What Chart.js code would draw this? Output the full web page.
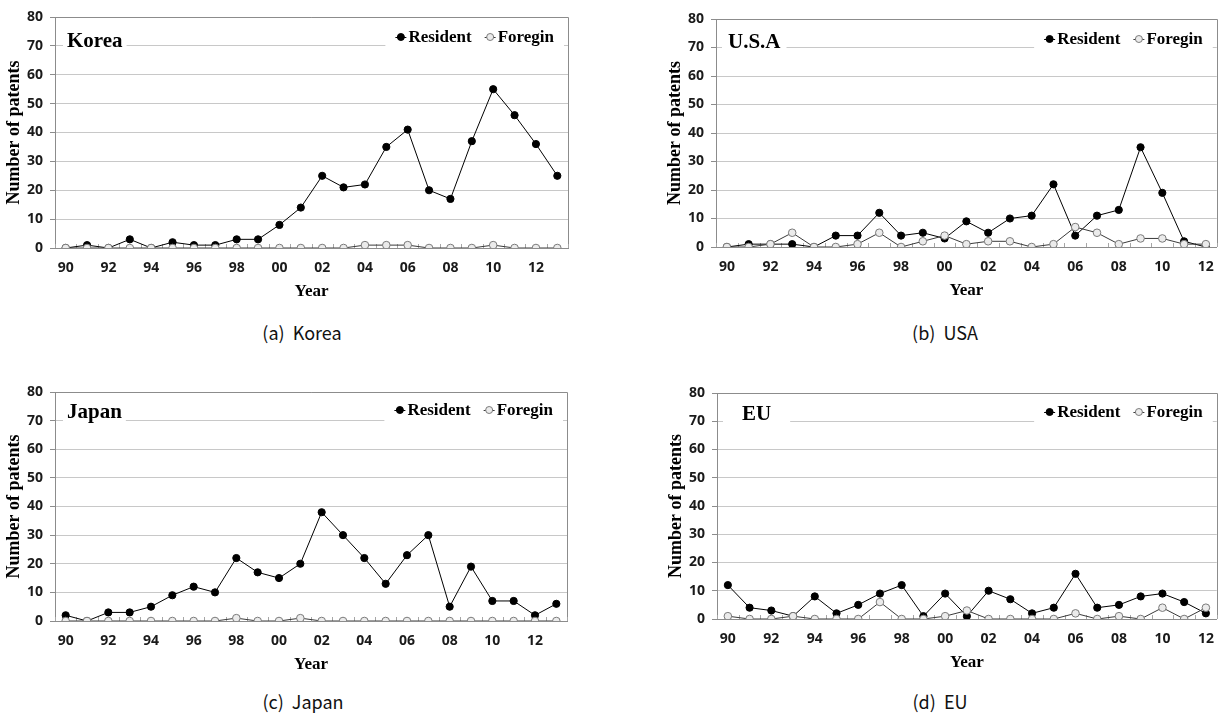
<!DOCTYPE html>
<html>
<head>
<meta charset="utf-8">
<script src="https://cdn.jsdelivr.net/npm/chart.js@4.4.0/dist/chart.umd.min.js"></script>
<style>
  body { margin: 0; background: #fff; width: 1226px; height: 715px; position: relative; overflow: hidden; }
  .panel { position: absolute; }
  .caption {
    position: absolute;
    font-family: "Noto Sans CJK KR", "Noto Sans", sans-serif;
    font-size: 18px;
    color: #111;
    transform: translate(-50%, -50%);
    white-space: pre;
  }
</style>
</head>
<body>
<div class="panel" style="left:0;top:0"><canvas id="chartKorea" width="590" height="310"></canvas></div>
<div class="panel" style="left:620px;top:0"><canvas id="chartUsa" width="606" height="310"></canvas></div>
<div class="panel" style="left:0;top:370px"><canvas id="chartJapan" width="590" height="313"></canvas></div>
<div class="panel" style="left:620px;top:370px"><canvas id="chartEu" width="606" height="313"></canvas></div>

<div class="caption" style="left:302px;top:332px">(a)  Korea</div>
<div class="caption" style="left:945px;top:332px">(b)  USA</div>
<div class="caption" style="left:303px;top:701px">(c)  Japan</div>
<div class="caption" style="left:940px;top:701px">(d)  EU</div>

<script>
// Data
const years = ['90', '91', '92', '93', '94', '95', '96', '97', '98', '99', '00', '01',
               '02', '03', '04', '05', '06', '07', '08', '09', '10', '11', '12', '13'];

const koreaResident = [0, 1, 0, 3, 0, 2, 1, 1, 3, 3, 8, 14, 25, 21, 22, 35, 41, 20, 17, 37, 55, 46, 36, 25];
const koreaForeign  = [0, 0, 0, 0, 0, 0, 0, 0, 0, 0, 0, 0, 0, 0, 1, 1, 1, 0, 0, 0, 1, 0, 0, 0];

const usaResident = [0, 1, 1, 1, 0, 4, 4, 12, 4, 5, 3, 9, 5, 10, 11, 22, 4, 11, 13, 35, 19, 2, 0];
const usaForeign  = [0, 0, 1, 5, 0, 0, 1, 5, 0, 2, 4, 1, 2, 2, 0, 1, 7, 5, 1, 3, 3, 1, 1];

const japanResident = [2, 0, 3, 3, 5, 9, 12, 10, 22, 17, 15, 20, 38, 30, 22, 13, 23, 30, 5, 19, 7, 7, 2, 6];
const japanForeign  = [0, 0, 0, 0, 0, 0, 0, 0, 1, 0, 0, 1, 0, 0, 0, 0, 0, 0, 0, 0, 0, 0, 0, 0];

const euResident = [12, 4, 3, 1, 8, 2, 5, 9, 12, 1, 9, 1, 10, 7, 2, 4, 16, 4, 5, 8, 9, 6, 2];
const euForeign  = [1, 0, 0, 1, 0, 0, 0, 6, 0, 0, 1, 3, 0, 0, 0, 0, 2, 0, 1, 0, 4, 0, 4];

const seriesNames = ['Resident', 'Foregin'];
const yMin = 0, yMax = 80, yStep = 10;

const AXIS_GRAY = '#8c8c8c';
const GRID_GRAY = '#c8c8c8';
const SERIF = '"Liberation Serif", "Times New Roman", serif';
const SANS = '"Open Sans", "Liberation Sans", sans-serif';

// Draws the plot frame, minor x ticks, the in-plot title and the legend box
const panelDecor = {
  id: 'panelDecor',
  beforeDatasetsDraw(chart, args, opts) {
    const { ctx, chartArea: a, scales: { x } } = chart;
    ctx.save();

    // top and right frame
    ctx.strokeStyle = AXIS_GRAY;
    ctx.lineWidth = 1;
    ctx.beginPath();
    ctx.moveTo(a.left, Math.round(a.top) + 0.5);
    ctx.lineTo(Math.round(a.right) + 0.5, Math.round(a.top) + 0.5);
    ctx.lineTo(Math.round(a.right) + 0.5, a.bottom);
    ctx.stroke();

    // small tick marks between categories, pointing into the plot
    const n = chart.data.labels.length;
    const step = (x.getPixelForValue(n - 1) - x.getPixelForValue(0)) / (n - 1);
    ctx.strokeStyle = '#a6a6a6';
    ctx.beginPath();
    for (let i = 0; i <= n; i++) {
      const px = Math.round(x.getPixelForValue(i) - step / 2) + 0.5;
      ctx.moveTo(px, a.bottom);
      ctx.lineTo(px, a.bottom - 4);
    }
    ctx.stroke();

    // title text box
    ctx.font = 'bold 21px ' + SERIF;
    ctx.textBaseline = 'middle';
    const tw = ctx.measureText(opts.title).width;
    const tx = a.left + opts.titleX;
    ctx.fillStyle = '#fff';
    ctx.fillRect(tx - opts.titlePad, a.top + 6, tw + opts.titlePad * 2, 30);
    ctx.fillStyle = '#000';
    ctx.fillText(opts.title, tx, a.top + opts.titleY);

    // legend
    ctx.font = 'bold 17px ' + SERIF;
    const markW = 11, markGap = 2, itemGap = 13;
    const items = chart.data.datasets.map(ds => ({ ds, w: ctx.measureText(ds.label).width }));
    const total = items.reduce((s, it) => s + markW + markGap + it.w, 0) + itemGap * (items.length - 1);
    let lx = a.right - 14 - total;
    const ly = a.top + opts.legendY;
    ctx.fillStyle = '#fff';
    ctx.fillRect(lx - 10, a.top + 6, a.right - 4 - (lx - 10), 30);
    items.forEach(({ ds, w }) => {
      ctx.strokeStyle = ds.borderColor;
      ctx.lineWidth = 1;
      ctx.beginPath();
      ctx.moveTo(lx, ly + 0.5);
      ctx.lineTo(lx + markW, ly + 0.5);
      ctx.stroke();
      ctx.beginPath();
      ctx.arc(lx + markW / 2, ly, 3.5, 0, Math.PI * 2);
      ctx.fillStyle = ds.pointBackgroundColor;
      ctx.fill();
      ctx.strokeStyle = ds.pointBorderColor;
      ctx.stroke();
      ctx.fillStyle = '#000';
      ctx.fillText(ds.label, lx + markW + markGap, ly + 1);
      lx += markW + markGap + w + itemGap;
    });
    ctx.restore();
  }
};

function makeChart(canvasId, resident, foreign, decor, padding) {
  const labels = years.slice(0, resident.length);
  return new Chart(document.getElementById(canvasId), {
    type: 'line',
    data: {
      labels: labels,
      datasets: [{
        label: seriesNames[0],
        data: resident,
        borderColor: '#000',
        borderWidth: 1,
        pointBackgroundColor: '#000',
        pointBorderColor: '#000',
        pointBorderWidth: 1,
        pointRadius: 3.6,
        tension: 0,
        order: 1
      }, {
        label: seriesNames[1],
        data: foreign,
        borderColor: '#3a3a3a',
        borderWidth: 1,
        pointBackgroundColor: '#ebebeb',
        pointBorderColor: '#7a7a7a',
        pointBorderWidth: 1,
        pointRadius: 3.8,
        tension: 0,
        order: 0
      }]
    },
    options: {
      responsive: false,
      animation: false,
      layout: { padding: padding },
      plugins: {
        legend: { display: false },
        tooltip: { enabled: false },
        panelDecor: decor
      },
      scales: {
        x: {
          offset: true,
          grid: { display: false, drawTicks: false },
          border: { display: true, color: AXIS_GRAY },
          ticks: {
            autoSkip: false,
            maxRotation: 0,
            padding: 12,
            color: '#1a1a1a',
            font: { family: SANS, size: 14, weight: 'bold' },
            callback: (v, i) => (i % 2 === 0 ? labels[i] : '')
          },
          title: {
            display: true,
            text: 'Year',
            color: '#000',
            font: { family: SERIF, size: 17, weight: 'bold' },
            padding: { top: 0, bottom: 8 }
          },
          afterFit: s => { s.height = 62; }
        },
        y: {
          min: yMin,
          max: yMax,
          ticks: {
            stepSize: yStep,
            padding: 7,
            color: '#1a1a1a',
            font: { family: SANS, size: 14, weight: 'bold' }
          },
          grid: { color: GRID_GRAY, tickLength: 5, tickColor: AXIS_GRAY },
          border: { display: true, color: AXIS_GRAY },
          title: {
            display: true,
            text: 'Number of patents',
            color: '#000',
            font: { family: SERIF, size: 18, weight: 'bold' },
            padding: { top: 4, bottom: 0 }
          },
          afterFit: s => { s.width = 55; }
        }
      }
    },
    plugins: [panelDecor]
  });
}

makeChart('chartKorea', koreaResident, koreaForeign,
  { title: 'Korea', titleX: 12, titleY: 25, titlePad: 4, legendY: 20 },
  { top: 17, right: 22, left: 0, bottom: 0 });
makeChart('chartUsa', usaResident, usaForeign,
  { title: 'U.S.A', titleX: 12, titleY: 24, titlePad: 6, legendY: 20 },
  { top: 19, right: 6, left: 41, bottom: 1 });
makeChart('chartJapan', japanResident, japanForeign,
  { title: 'Japan', titleX: 12, titleY: 21, titlePad: 4, legendY: 18 },
  { top: 22, right: 23, left: 0, bottom: 0 });
makeChart('chartEu', euResident, euForeign,
  { title: 'EU', titleX: 25, titleY: 22, titlePad: 19, legendY: 19 },
  { top: 23, right: 4, left: 42, bottom: 2 });
</script>
</body>
</html>
